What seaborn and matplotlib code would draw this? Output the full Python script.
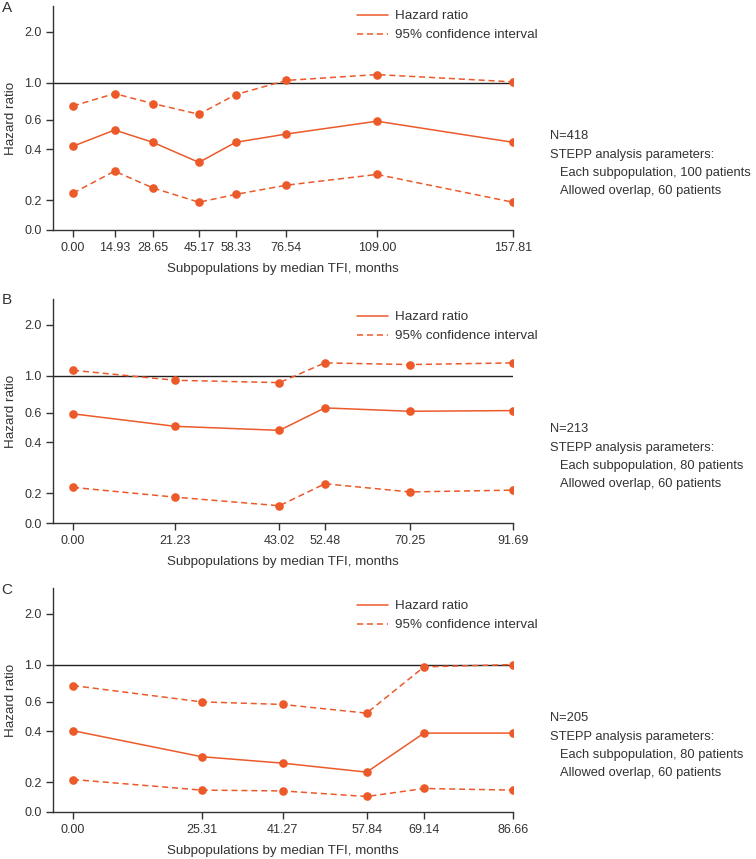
import numpy as np
import pandas as pd
import matplotlib
matplotlib.use("Agg")
import matplotlib.pyplot as plt
import seaborn as sns
from matplotlib.lines import Line2D

# ---------------- data ----------------
a_x = [0.00, 14.93, 28.65, 45.17, 58.33, 76.54, 109.00, 157.81]
a_hr = [0.418, 0.522, 0.441, 0.335, 0.441, 0.494, 0.589, 0.441]
a_lo = [0.220, 0.297, 0.236, 0.194, 0.216, 0.245, 0.284, 0.194]
a_hi = [0.726, 0.860, 0.750, 0.648, 0.848, 1.030, 1.116, 1.010]
a_xlabels = ["0.00", "14.93", "28.65", "45.17", "58.33", "76.54", "109.00", "157.81"]
a_info = ["N=418", "STEPP analysis parameters:",
          "Each subpopulation, 100 patients", "Allowed overlap, 60 patients"]

b_x = [0.00, 21.23, 43.02, 52.48, 70.25, 91.69]
b_hr = [0.592, 0.499, 0.472, 0.642, 0.613, 0.619]
b_lo = [0.216, 0.189, 0.168, 0.227, 0.203, 0.208]
b_hi = [1.075, 0.938, 0.908, 1.190, 1.163, 1.190]
b_xlabels = ["0.00", "21.23", "43.02", "52.48", "70.25", "91.69"]
b_info = ["N=213", "STEPP analysis parameters:",
          "Each subpopulation, 80 patients", "Allowed overlap, 60 patients"]

c_x = [0.00, 25.31, 41.27, 57.84, 69.14, 86.66]
c_hr = [0.404, 0.283, 0.259, 0.229, 0.391, 0.391]
c_lo = [0.207, 0.179, 0.177, 0.164, 0.183, 0.179]
c_hi = [0.750, 0.600, 0.579, 0.514, 0.969, 1.000]
c_xlabels = ["0.00", "25.31", "41.27", "57.84", "69.14", "86.66"]
c_info = ["N=205", "STEPP analysis parameters:",
          "Each subpopulation, 80 patients", "Allowed overlap, 60 patients"]

panel_letters = ["A", "B", "C"]
y_ticks = [0.1326, 0.2, 0.4, 0.6, 1.0, 2.0]
y_ticklabels = ["0.0", "0.2", "0.4", "0.6", "1.0", "2.0"]
hr_label = "Hazard ratio"
ci_label = "95% confidence interval"
x_title = "Subpopulations by median TFI, months"
y_title = "Hazard ratio"

# ---------------- style ----------------
sns.set_style("ticks")
plt.rcParams["font.family"] = ["Liberation Sans", "DejaVu Sans"]
TXT = "#333333"
ORANGE = "#EC5A2A"
plt.rcParams.update({
    "axes.edgecolor": TXT, "xtick.color": TXT, "ytick.color": TXT,
    "text.color": TXT, "axes.labelcolor": TXT,
})
FS = 9.6
TFS = 9.0
IFS = 9.3

W, H = 756, 859
fig = plt.figure(figsize=(W / 100, H / 100), dpi=100)

panels = [
    (a_x, a_hr, a_lo, a_hi, a_xlabels, a_info, 6, 230, 8),
    (b_x, b_hr, b_lo, b_hi, b_xlabels, b_info, 299, 523, 16),
    (c_x, c_hr, c_lo, c_hi, c_xlabels, c_info, 588, 812, 16),
]
left_px, right_px = 53, 513

for i, (xs, hr, lo, hi, xl, info, top, bot, leg_off) in enumerate(panels):
    ax = fig.add_axes([left_px / W, (H - bot) / H,
                       (right_px - left_px) / W, (bot - top) / H])
    n = len(xs)
    df = pd.DataFrame({
        "x": list(xs) * 3,
        "y": list(hr) + list(lo) + list(hi),
        "kind": [hr_label] * n + [ci_label] * (2 * n),
        "band": ["hr"] * n + ["lo"] * n + ["hi"] * n,
    })
    ax.axhline(1.0, color="#222222", lw=1.0, zorder=1)
    sns.lineplot(data=df, x="x", y="y", style="kind", units="band",
                 estimator=None, sort=False, color=ORANGE,
                 dashes={hr_label: "", ci_label: (4, 2.5)},
                 marker="o", markersize=6.2, markeredgewidth=0,
                 linewidth=1.1, legend=False, ax=ax, zorder=3)
    ax.set_yscale("log")
    ax.minorticks_off()
    ax.set_yticks(y_ticks)
    ax.set_yticklabels(y_ticklabels)
    ax.set_ylim(0.1326, 2.856)
    rng = xs[-1] - xs[0]
    ax.set_xlim(xs[0] - rng * 20 / 440, xs[-1])
    ax.set_xticks(xs)
    ax.set_xticklabels(xl)
    ax.tick_params(axis="both", labelsize=TFS, length=5, width=1.0,
                   colors=TXT)
    ax.tick_params(axis="x", pad=3.5)
    ax.tick_params(axis="y", pad=3)
    for s in ["top", "right"]:
        ax.spines[s].set_visible(False)
    for s in ["left", "bottom"]:
        ax.spines[s].set_linewidth(1.0)
    ax.set_xlabel(x_title, fontsize=FS, labelpad=6.5)
    ax.set_ylabel(y_title, fontsize=FS, labelpad=5.5)

    handles = [Line2D([], [], color=ORANGE, lw=1.1),
               Line2D([], [], color=ORANGE, lw=1.1, dashes=(4, 2.5))]
    leg_y = 1 - (leg_off - 4.0) / (bot - top)
    ax.legend(handles, [hr_label, ci_label], loc="upper left",
              bbox_to_anchor=((357 - left_px) / (right_px - left_px), leg_y),
              frameon=False, borderpad=0, borderaxespad=0,
              handlelength=2.35, handletextpad=0.5, labelspacing=0.5,
              fontsize=FS)

    y0 = 0.418
    dy = 18.3 / (bot - top)
    for k, line in enumerate(info):
        xpx = 550 if k < 2 else 560
        ax.text((xpx - left_px) / (right_px - left_px), y0 - k * dy, line,
                transform=ax.transAxes, va="center", ha="left",
                fontsize=IFS, color=TXT)

    fig.text(1.5 / W, 1 - (top + 1.5) / H, panel_letters[i], fontsize=11,
             va="center", ha="left", color=TXT)

fig.savefig("out.png", dpi=100)
